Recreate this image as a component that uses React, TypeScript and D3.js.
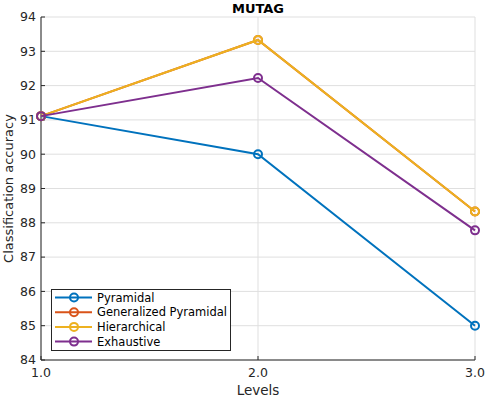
import React from "react";
import * as d3 from "d3";

const levels = [1, 2, 3];
const seriesNames = ["Pyramidal", "Generalized Pyramidal", "Hierarchical", "Exhaustive"];
const pyramidal = [91.11, 90.0, 85.0];
const generalizedPyramidal = [91.11, 93.33, 88.33];
const hierarchical = [91.11, 93.33, 88.33];
const exhaustive = [91.11, 92.22, 87.78];
const colors = ["#0072BD", "#D95319", "#EDB120", "#7E2F8E"];
const yTicks = [84, 85, 86, 87, 88, 89, 90, 91, 92, 93, 94];
const xTicks = [1, 2, 3];

export default function App() {
  const W = 485, H = 398;
  const left = 41, right = 475, top = 17, bottom = 360;
  const x = d3.scaleLinear().domain([1, 3]).range([left, right]);
  const y = d3.scaleLinear().domain([84, 94]).range([bottom, top]);
  const allSeries = [pyramidal, generalizedPyramidal, hierarchical, exhaustive];
  const line = d3.line<number>().x((_, i) => x(levels[i])).y((d) => y(d));
  const font = "DejaVu Sans, sans-serif";
  const txt = "#262626";
  return (
    <svg width={W} height={H} style={{ position: "absolute", left: 0, top: 0, fontFamily: font }}>
      <rect width={W} height={H} fill="#fff" />
      {yTicks.map((t) => (
        <line key={"gy" + t} x1={left} x2={right} y1={y(t)} y2={y(t)} stroke="#dfdfdf" strokeWidth={1} />
      ))}
      {xTicks.map((t) => (
        <line key={"gx" + t} x1={x(t)} x2={x(t)} y1={top} y2={bottom} stroke="#dfdfdf" strokeWidth={1} />
      ))}
      <line x1={left} x2={left} y1={top} y2={bottom} stroke={txt} strokeWidth={1} />
      <line x1={left} x2={right} y1={bottom} y2={bottom} stroke={txt} strokeWidth={1} />
      {yTicks.map((t) => (
        <g key={"ty" + t}>
          <line x1={left} x2={left + 4} y1={y(t)} y2={y(t)} stroke={txt} />
          <text x={left - 5} y={y(t)} dy="0.35em" textAnchor="end" fontSize={12.5} fill={txt}>{t}</text>
        </g>
      ))}
      {xTicks.map((t) => (
        <g key={"tx" + t}>
          <line x1={x(t)} x2={x(t)} y1={bottom} y2={bottom - 4} stroke={txt} />
          <text x={x(t)} y={bottom + 17} textAnchor="middle" fontSize={12.5} fill={txt}>{t.toFixed(1)}</text>
        </g>
      ))}
      {allSeries.map((s, k) => (
        <g key={"s" + k}>
          <path d={line(s) || ""} fill="none" stroke={colors[k]} strokeWidth={2} />
          {s.map((v, i) => (
            <circle key={i} cx={x(levels[i])} cy={y(v)} r={4} fill="none" stroke={colors[k]} strokeWidth={2} />
          ))}
        </g>
      ))}
      <text x={(left + right) / 2} y={12.5} textAnchor="middle" fontSize={13} fontWeight="bold" fill="#000">MUTAG</text>
      <text x={(left + right) / 2} y={395} textAnchor="middle" fontSize={13.5} fill={txt}>Levels</text>
      <text transform={`translate(13, ${(top + bottom) / 2}) rotate(-90)`} textAnchor="middle" fontSize={13} fill={txt}>Classification accuracy</text>
      <g>
        <rect x={51.5} y={289.5} width={179} height={61} fill="#fff" stroke={txt} strokeWidth={1} />
        {seriesNames.map((n, k) => {
          const ly = 297.5 + k * 14.7;
          return (
            <g key={"l" + k}>
              <line x1={55} x2={92} y1={ly} y2={ly} stroke={colors[k]} strokeWidth={2} />
              <circle cx={74} cy={ly} r={4} fill="none" stroke={colors[k]} strokeWidth={2} />
              <text x={97} y={ly} dy="0.35em" fontSize={11.5} fill="#000">{n}</text>
            </g>
          );
        })}
      </g>
    </svg>
  );
}
